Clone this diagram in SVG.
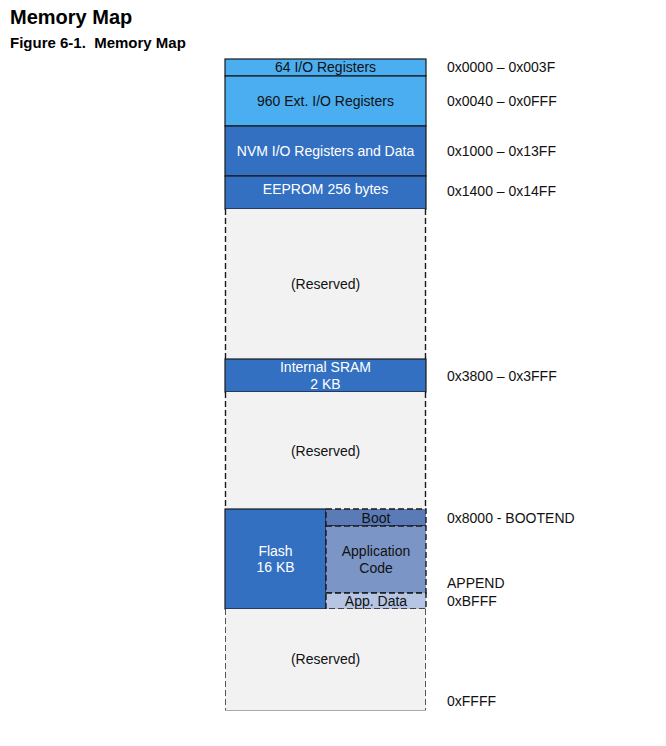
<svg xmlns="http://www.w3.org/2000/svg" width="666" height="746" viewBox="0 0 666 746">
<style>
text{font-family:"Liberation Sans",Arial,sans-serif;font-size:14px}
.t{font-weight:bold}
.lb{fill:#4aaef0;stroke:#1a1a1a;stroke-width:1.2}
.db{fill:#3370c2;stroke:#1a1a1a;stroke-width:1.2}
.rs{fill:#f2f2f2;stroke:none}
.dash{stroke:#1a1a1a;stroke-width:1.4;stroke-dasharray:6 3;fill:none}
.wt{fill:#ffffff;text-anchor:middle}
.bt{fill:#111111;text-anchor:middle}
.addr{fill:#111111}
</style>
<rect width="666" height="746" fill="#ffffff"/>
<text class="t" x="10" y="24" style="font-size:20px">Memory Map</text>
<text class="t" x="10" y="48" style="font-size:15px">Figure 6-1.&#160; Memory Map</text>

<g id="io64"><rect class="lb" x="225" y="59" width="201" height="17"/><text class="bt" x="325.5" y="72">64 I/O Registers</text></g>
<g id="extio"><rect class="lb" x="225" y="76" width="201" height="50"/><text class="bt" x="325.5" y="106">960 Ext. I/O Registers</text></g>
<g id="nvm"><rect class="db" x="225" y="126" width="201" height="50"/><text class="wt" x="325.5" y="156">NVM I/O Registers and Data</text></g>
<g id="eeprom"><rect class="db" x="225" y="176" width="201" height="33"/><text class="wt" x="325.5" y="194">EEPROM 256 bytes</text></g>
<g id="res1"><rect class="rs" x="225" y="209" width="201" height="150"/><line class="dash" x1="225.5" y1="209" x2="225.5" y2="359"/><line class="dash" x1="425.5" y1="209" x2="425.5" y2="359"/><text class="bt" x="325.5" y="289">(Reserved)</text></g>
<g id="sram"><rect class="db" x="225" y="359" width="201" height="33"/><text class="wt" x="325.5" y="372">Internal SRAM</text><text class="wt" x="325.5" y="389">2 KB</text></g>
<g id="res2"><rect class="rs" x="225" y="392" width="201" height="117"/><line class="dash" x1="225.5" y1="392" x2="225.5" y2="509"/><line class="dash" x1="425.5" y1="392" x2="425.5" y2="509"/><text class="bt" x="325.5" y="456">(Reserved)</text></g>
<g id="flash"><rect class="db" x="225" y="509" width="101" height="100"/><text class="wt" x="275.5" y="556">Flash</text><text class="wt" x="275.5" y="572">16 KB</text></g>
<g id="boot"><rect x="326" y="509" width="100" height="17" fill="#5b7bb6"/><rect class="dash" x="326" y="509" width="100" height="17"/><text class="bt" x="376" y="523">Boot</text></g>
<g id="app"><rect x="326" y="526" width="100" height="67" fill="#7b96c6"/><rect class="dash" x="326" y="526" width="100" height="67"/><text class="bt" x="376" y="556">Application</text><text class="bt" x="376" y="573">Code</text></g>
<g id="appdata"><rect x="326" y="593" width="100" height="16" fill="#b6c5e2"/><rect class="dash" x="326" y="593" width="100" height="16"/><text class="bt" x="376" y="606">App. Data</text></g>
<g id="res3"><rect class="rs" x="225" y="609" width="201" height="101"/><line class="dash" x1="225.5" y1="609" x2="225.5" y2="710" style="stroke:#555;stroke-width:1"/><line class="dash" x1="425.5" y1="609" x2="425.5" y2="710" style="stroke:#555;stroke-width:1"/><line x1="225" y1="710.5" x2="426" y2="710.5" stroke="#aaaaaa" stroke-width="1"/><text class="bt" x="325.5" y="664">(Reserved)</text></g>

<g id="addresses">
<text class="addr" x="447" y="72">0x0000 – 0x003F</text>
<text class="addr" x="447" y="106">0x0040 – 0x0FFF</text>
<text class="addr" x="447" y="156">0x1000 – 0x13FF</text>
<text class="addr" x="447" y="196">0x1400 – 0x14FF</text>
<text class="addr" x="447" y="381">0x3800 – 0x3FFF</text>
<text class="addr" x="447" y="523">0x8000 - BOOTEND</text>
<text class="addr" x="447" y="588">APPEND</text>
<text class="addr" x="447" y="606">0xBFFF</text>
<text class="addr" x="447" y="706">0xFFFF</text>
</g>
<g id="connectors"></g>
</svg>
